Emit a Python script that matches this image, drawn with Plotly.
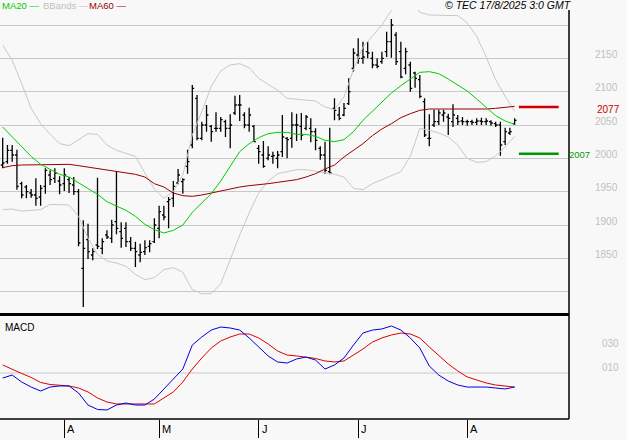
import pandas as pd
import plotly.graph_objects as go

# ---------------- data ----------------
holidays = ["2025-04-18", "2025-04-21", "2025-05-01"]
dates = [d for d in pd.bdate_range("2025-03-13", "2025-08-15")
         if d.strftime("%Y-%m-%d") not in holidays]
idx = list(range(len(dates)))

opens = [1990, 1995, 2012, 2005, 1962, 1957, 1948, 1945, 1942, 1958,
         1975, 1970, 1966, 1962, 1968, 1960, 1950, 1835, 1878, 1855,
         1870, 1865, 1885, 1880, 1905, 1890, 1895, 1875, 1865, 1855,
         1860, 1868, 1875, 1895, 1915, 1935, 1940, 1963, 1965, 1988,
         2020, 2090, 2030, 2050, 2048, 2045, 2045, 2055, 2045, 2068,
         2080, 2065, 2050, 2048, 2015, 2005, 2000, 2003, 2000, 2010,
         2030, 2030, 2050, 2048, 2045, 2045, 2040, 2015, 2005, 1980,
         2075, 2065, 2065, 2082, 2135, 2155, 2150, 2160, 2150, 2140,
         2145, 2160, 2175, 2185, 2160, 2135, 2140, 2128, 2118, 2085,
         2030, 2050, 2055, 2065, 2062, 2055, 2060, 2056, 2055, 2055,
         2054, 2056, 2055, 2055, 2052, 2050, 2025, 2038, 2052]
highs = [2031, 2020, 2020, 2013, 1965, 1960, 1954, 1970, 1960, 1985,
         1982, 1985, 1973, 1985, 1972, 1972, 1954, 1907, 1902, 1865,
         1971, 1880, 1892, 1908, 1980, 1904, 1904, 1882, 1875, 1872,
         1877, 1877, 1910, 1929, 1929, 1942, 1966, 1984, 1970, 2013,
         2110, 2095, 2055, 2080, 2050, 2069, 2062, 2058, 2066, 2094,
         2095, 2069, 2076, 2050, 2020, 2026, 2018, 2010, 2011, 2065,
         2032, 2069, 2067, 2068, 2065, 2060, 2045, 2018, 2025, 2046,
         2090, 2077, 2083, 2120, 2165, 2180, 2175, 2175, 2160, 2150,
         2160, 2190, 2209, 2189, 2175, 2166, 2145, 2130, 2125, 2090,
         2066, 2073, 2073, 2073, 2067, 2081, 2065, 2062, 2058, 2058,
         2060, 2061, 2060, 2057, 2055, 2055, 2046, 2046, 2060]
lows = [1985, 1992, 1995, 1953, 1940, 1940, 1941, 1929, 1929, 1947,
        1960, 1963, 1946, 1951, 1948, 1945, 1868, 1777, 1849, 1847,
        1864, 1856, 1879, 1873, 1886, 1866, 1867, 1861, 1837, 1844,
        1855, 1859, 1873, 1880, 1907, 1895, 1927, 1961, 1947, 1977,
        2015, 2027, 2027, 2040, 2025, 2040, 2040, 2032, 2015, 2065,
        2056, 2045, 2040, 2025, 1992, 1986, 1997, 1992, 1985, 2002,
        2000, 2016, 2026, 2027, 2042, 2024, 2012, 1998, 1977, 1976,
        2057, 2057, 2063, 2080, 2130, 2142, 2142, 2150, 2135, 2135,
        2142, 2152, 2151, 2140, 2120, 2126, 2100, 2106, 2090, 2032,
        2018, 2047, 2050, 2055, 2035, 2047, 2050, 2050, 2049, 2050,
        2050, 2050, 2050, 2049, 2047, 2004, 2020, 2035, 2050]
closes = [1993, 2012, 2005, 1958, 1945, 1950, 1945, 1940, 1955, 1982,
          1968, 1978, 1960, 1975, 1962, 1950, 1873, 1865, 1860, 1860,
          1868, 1875, 1882, 1900, 1895, 1880, 1875, 1865, 1860, 1859,
          1866, 1872, 1900, 1920, 1912, 1938, 1958, 1975, 1968, 1995,
          2105, 2030, 2050, 2065, 2040, 2045, 2058, 2045, 2050, 2080,
          2080, 2050, 2065, 2025, 2010, 1988, 2005, 2004, 2005, 2032,
          2028, 2050, 2050, 2035, 2062, 2040, 2027, 2005, 1982, 1978,
          2072, 2060, 2075, 2100, 2158, 2150, 2152, 2158, 2140, 2138,
          2150, 2175, 2200, 2145, 2122, 2160, 2105, 2120, 2093, 2035,
          2030, 2055, 2068, 2068, 2060, 2065, 2055, 2055, 2055, 2054,
          2056, 2055, 2056, 2053, 2050, 2020, 2040, 2040, 2057]

# indicator lines, read every second session
line_idx = idx[::2]
ma20 = [2047, 2032, 2017, 2003, 1991, 1983, 1976, 1972, 1963, 1954,
        1946, 1935, 1928, 1922, 1913, 1901, 1893, 1888, 1892, 1900,
        1919, 1933, 1947, 1966, 1987, 2010, 2022, 2031, 2037, 2039,
        2039, 2036, 2036, 2033, 2027, 2025, 2028, 2040, 2057, 2071,
        2085, 2098, 2109, 2119, 2129, 2130, 2127, 2119, 2110, 2101,
        2089, 2076, 2064, 2056, 2051]
ma60 = [1986, 1989, 1990, 1990, 1990, 1990, 1990, 1991, 1989, 1987,
        1985, 1983, 1981, 1979, 1976, 1972, 1962, 1957, 1948, 1944,
        1943, 1945, 1948, 1951, 1955, 1957, 1959, 1960, 1962, 1964,
        1966, 1968, 1972, 1977, 1984, 1990, 2002, 2012, 2022, 2034,
        2044, 2052, 2061, 2067, 2072, 2074, 2074, 2074, 2073, 2073,
        2073, 2074, 2075, 2077, 2078]
bb_upper = [2170, 2147, 2112, 2075, 2052, 2036, 2022, 2019, 2028, 2037,
            2036, 2020, 2012, 2007, 2003, 1978, 1954, 1940, 1950, 1975,
            2035, 2070, 2108, 2131, 2140, 2142, 2136, 2120, 2111, 2102,
            2090, 2089, 2088, 2086, 2077, 2073, 2092, 2133, 2167, 2184,
            2200, 2222, 2238, 2238, 2219, 2215, 2215, 2215, 2214, 2203,
            2183, 2152, 2118, 2093, 2071]
bb_lower = [1923, 1924, 1921, 1922, 1923, 1931, 1931, 1930, 1913, 1880,
            1856, 1846, 1843, 1838, 1826, 1818, 1821, 1833, 1836, 1829,
            1803, 1797, 1797, 1812, 1848, 1885, 1918, 1948, 1966, 1977,
            1980, 1983, 1983, 1981, 1978, 1976, 1972, 1955, 1953, 1962,
            1968, 1974, 1980, 2003, 2045, 2042, 2038, 2032, 2020, 2000,
            1994, 1995, 2004, 2017, 2033]
macd = [0.008, 0.033, -0.025, -0.067, -0.100, -0.067, -0.058, -0.058, -0.117, -0.217,
        -0.254, -0.258, -0.217, -0.200, -0.217, -0.217, -0.167, -0.083, 0.008, 0.083,
        0.283, 0.350, 0.408, 0.433, 0.425, 0.408, 0.342, 0.267, 0.192, 0.142,
        0.133, 0.167, 0.183, 0.158, 0.083, 0.117, 0.175, 0.283, 0.383, 0.408,
        0.417, 0.442, 0.408, 0.342, 0.258, 0.108, 0.033, -0.017, -0.050, -0.067,
        -0.067, -0.067, -0.075, -0.083, -0.067]
signal = [0.117, 0.079, 0.046, 0.013, -0.029, -0.046, -0.054, -0.058, -0.075, -0.108,
          -0.158, -0.192, -0.208, -0.208, -0.208, -0.208, -0.208, -0.158, -0.108, -0.025,
          0.083, 0.175, 0.258, 0.317, 0.350, 0.375, 0.375, 0.342, 0.292, 0.233,
          0.200, 0.192, 0.183, 0.171, 0.150, 0.142, 0.150, 0.200, 0.250, 0.308,
          0.342, 0.367, 0.383, 0.375, 0.342, 0.267, 0.200, 0.125, 0.067, 0.017,
          -0.008, -0.033, -0.050, -0.058, -0.067]

level_red = 2077
level_green = 2007
price_grid = [1800, 1850, 1900, 1950, 2000, 2050, 2100, 2150, 2200]
price_labels = ["", "1850", "1900", "1950", "2000", "2050", "2100", "2150", ""]
macd_ticks = [0.10, 0.30]
macd_labels = ["010", "030"]
macd_grid = 0.05

month_idx = [i for i in idx if i > 0 and dates[i].month != dates[i - 1].month]
month_lbl = [dates[i].strftime("%B")[0] for i in month_idx]

# ---------------- figure ----------------
BG = "#f8f8f8"
GRID = "#c8c8c8"
FONT = "Liberation Sans, Arial, sans-serif"
W, H = 627, 440
ML, MR, MT, MB = 0, 58, 10, 21
PH = H - MT - MB


def py(ypix):
    return (H - MB - ypix) / PH


fig = go.Figure()
fig.add_trace(go.Scatter(x=line_idx, y=bb_upper, mode="lines",
                         line=dict(color=GRID, width=1), hoverinfo="skip"))
fig.add_trace(go.Scatter(x=line_idx, y=bb_lower, mode="lines",
                         line=dict(color=GRID, width=1), hoverinfo="skip"))
fig.add_trace(go.Scatter(x=line_idx, y=ma60, mode="lines",
                         line=dict(color="#990000", width=1), hoverinfo="skip"))
fig.add_trace(go.Scatter(x=line_idx, y=ma20, mode="lines",
                         line=dict(color="#00cc00", width=1), hoverinfo="skip"))
fig.add_trace(go.Ohlc(x=idx, open=opens, high=highs, low=lows, close=closes,
                      increasing=dict(line=dict(color="black", width=1.3)),
                      decreasing=dict(line=dict(color="black", width=1.3)),
                      tickwidth=0.4, hoverinfo="skip"))
fig.add_trace(go.Scatter(x=line_idx, y=signal, mode="lines", xaxis="x2", yaxis="y2",
                         line=dict(color="#dd0000", width=1), hoverinfo="skip"))
fig.add_trace(go.Scatter(x=line_idx, y=macd, mode="lines", xaxis="x2", yaxis="y2",
                         line=dict(color="#0000dd", width=1), hoverinfo="skip"))

n = len(idx)
xr = [-2.7 / 4.74, (569 - 2.7) / 4.74]

shapes = [
    # level lines at the right end
    dict(type="line", xref="x", yref="y", x0=n - 0.1, x1=n + 8.3,
         y0=level_red, y1=level_red, line=dict(color="#cc0000", width=2.5)),
    dict(type="line", xref="x", yref="y", x0=n - 0.1, x1=n + 8.3,
         y0=level_green, y1=level_green, line=dict(color="#009900", width=2.5)),
    # MACD grid line
    dict(type="line", xref="paper", yref="y2", x0=0, x1=1, y0=macd_grid, y1=macd_grid,
         line=dict(color=GRID, width=1), layer="below"),
    # frame
    dict(type="line", xref="paper", yref="paper", x0=1, x1=1, y0=0, y1=1,
         line=dict(color="black", width=1.5)),
    dict(type="line", xref="paper", yref="paper", x0=0, x1=1, y0=0, y1=0,
         line=dict(color="black", width=1.5)),
    dict(type="line", xref="paper", yref="paper", x0=0, x1=1, y0=py(314.5), y1=py(314.5),
         line=dict(color="black", width=3)),
]

annotations = []
for txt, col, xp in [("MA20 \u2014", "#00cc00", 0), ("BBands \u2014", "#c0c0c0", 41),
                     ("MA60 \u2014", "#990000", 87)]:
    annotations.append(dict(text=txt, xref="paper", yref="paper", x=xp / 569, y=py(5),
                            xanchor="left", yanchor="middle", showarrow=False,
                            font=dict(family=FONT, size=9.5, color=col)))
annotations.append(dict(text="<i>\u00a9 TEC 17/8/2025 3:0 GMT</i>", xref="paper", yref="paper",
                        x=574 / 569, y=py(5), xanchor="right", yanchor="middle",
                        showarrow=False, font=dict(family=FONT, size=10.5, color="black")))
annotations.append(dict(text="MACD", xref="paper", yref="paper", x=3 / 569, y=py(327),
                        xanchor="left", yanchor="middle", showarrow=False,
                        font=dict(family=FONT, size=10, color="black")))
annotations.append(dict(text=str(level_red), xref="paper", yref="y", x=595 / 569, y=level_red,
                        xanchor="left", yanchor="middle", yshift=-2, showarrow=False,
                        font=dict(family=FONT, size=10, color="#cc0000")))
annotations.append(dict(text=str(level_green), xref="paper", yref="y", x=1.0, y=level_green,
                        xanchor="left", yanchor="middle", yshift=-1, xshift=-1,
                        borderpad=0, showarrow=False,
                        font=dict(family=FONT, size=9.5, color="#009900")))
for mi, ml in zip(month_idx, month_lbl):
    annotations.append(dict(text=ml, xref="x2", yref="paper", x=mi, y=py(429),
                            xanchor="left", yanchor="middle", xshift=1, showarrow=False,
                            font=dict(family=FONT, size=11, color="black")))

fig.update_layout(
    width=W, height=H,
    margin=dict(l=ML, r=MR, t=MT, b=MB),
    paper_bgcolor=BG, plot_bgcolor=BG,
    showlegend=False,
    font=dict(family=FONT),
    xaxis=dict(domain=[0, 1], range=xr, anchor="y", showticklabels=False,
               showgrid=False, zeroline=False, showline=False,
               rangeslider=dict(visible=False), fixedrange=True),
    yaxis=dict(domain=[py(314), 1], range=[2200 - 1.5 * (314 - 25), 2200 + 1.5 * 15],
               side="right", tickvals=price_grid, ticktext=price_labels,
               showgrid=True, gridcolor=GRID, gridwidth=1, zeroline=False, showline=False,
               ticks="", ticklabelstandoff=25, ticklabelshift=-4,
               tickfont=dict(family=FONT, size=10, color="#c0c0c0"), fixedrange=True),
    xaxis2=dict(domain=[0, 1], range=xr, anchor="y2", tickvals=month_idx,
                ticks="outside", ticklen=18, tickwidth=1, tickcolor="black",
                showticklabels=False, showgrid=False, zeroline=False, showline=False,
                fixedrange=True),
    yaxis2=dict(domain=[0, py(316)], range=[(379 - 419) / 120, (379 - 316) / 120],
                side="right", anchor="x2", tickvals=macd_ticks, ticktext=macd_labels,
                showgrid=False, zeroline=False, showline=False, ticks="",
                ticklabelstandoff=32,
                tickfont=dict(family=FONT, size=10, color="#c0c0c0"), fixedrange=True),
    shapes=shapes,
    annotations=annotations,
)

fig.write_html(
    "out.html",
    config={"displayModeBar": False},
    post_script="document.body.style.margin='0px';document.body.style.overflow='hidden';"
                "document.body.style.background='#f8f8f8';",
)
